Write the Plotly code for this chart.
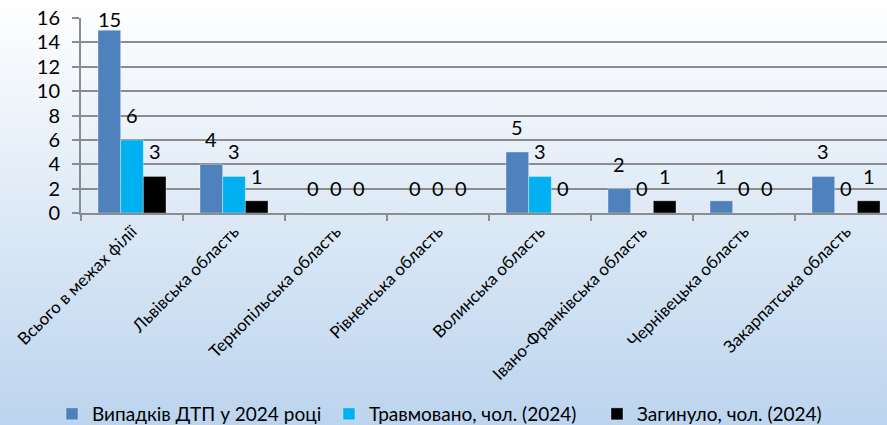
import base64
import plotly.graph_objects as go

regions = [
    "Всього в межах філії",
    "Львівська область",
    "Тернопільська область",
    "Рівненська область",
    "Волинська область",
    "Івано-Франківська область",
    "Чернівецька область",
    "Закарпатська область",
]
accidents = [15, 4, 0, 0, 5, 2, 1, 3]
injured = [6, 3, 0, 0, 3, 0, 0, 0]
killed = [3, 1, 0, 0, 0, 1, 0, 1]

series = [
    ("Випадків ДТП у 2024 році", accidents, "#4F81BD", 232),
    ("Травмовано, чол. (2024)", injured, "#00B0F0", 223),
    ("Загинуло, чол. (2024)", killed, "#000000", 200),
]

FONT = "Lato"
W, H = 887, 425
L, T, B = 81, 18, 212
CAT_PX = 102
BAR_PX = CAT_PX * (2 / 3) / 3


def _gradient_uri() -> str:
    svg = (
        "<svg xmlns='http://www.w3.org/2000/svg' width='10' height='100' preserveAspectRatio='none'>"
        "<defs><linearGradient id='g' x1='0' y1='0' x2='0' y2='1'>"
        "<stop offset='0' stop-color='#ffffff'/>"
        "<stop offset='1' stop-color='#bcd4ee'/>"
        "</linearGradient></defs>"
        "<rect width='10' height='100' fill='url(#g)'/></svg>"
    )
    return "data:image/svg+xml;base64," + base64.b64encode(svg.encode()).decode()


def _label_shift(v: float) -> int:
    # keep labels for tall bars inside the chart, as the source chart does
    return 11 if v < 14 else -3


fig = go.Figure()
annotations = []
for i, (name, vals, color, lw) in enumerate(series):
    fig.add_trace(go.Bar(x=regions, y=vals, name=name, marker_color=color, legendwidth=lw,
                         marker_line=dict(color="rgba(255,255,255,0.35)", width=1)))
    for reg, v in zip(regions, vals):
        annotations.append(dict(x=reg, y=v, text=str(v), showarrow=False,
                                xanchor="center", yanchor="bottom",
                                xshift=(i - 1) * BAR_PX, yshift=_label_shift(v),
                                font=dict(family=FONT, size=20, color="#000000")))

plot_w = W - L
plot_h = H - T - B
fig.update_layout(
    width=W, height=H,
    margin=dict(l=L, r=0, t=T, b=B, autoexpand=False),
    paper_bgcolor="rgba(0,0,0,0)", plot_bgcolor="rgba(0,0,0,0)",
    barmode="group", bargap=1 / 3, bargroupgap=0,
    font=dict(family=FONT, size=20, color="#000000"),
    annotations=annotations,
    images=[dict(source=_gradient_uri(), xref="paper", yref="paper",
                 x=-L / plot_w, y=1 + T / plot_h, sizex=W / plot_w, sizey=H / plot_h,
                 xanchor="left", yanchor="top", sizing="stretch", layer="below")],
    xaxis=dict(range=[-0.5, -0.5 + plot_w / CAT_PX], tickson="boundaries", automargin=False,
               ticks="outside", ticklen=6, tickcolor="#8c8c8c", tickwidth=2,
               showline=True, linecolor="#8c8c8c", linewidth=2,
               tickangle=-45, tickfont=dict(size=17), showgrid=False),
    yaxis=dict(range=[0, 16], dtick=2, showgrid=True, gridcolor="#8c8c8c", gridwidth=2,
               ticks="outside", ticklen=7, tickcolor="#8c8c8c", tickwidth=2,
               showline=True, linecolor="#8c8c8c", linewidth=2, automargin=False,
               zeroline=False, tickfont=dict(size=20), ticklabelstandoff=8),
    legend=dict(orientation="h", xref="container", yref="container",
                x=52 / W, xanchor="left", y=(H - 414) / H, yanchor="middle",
                font=dict(size=19), bgcolor="rgba(0,0,0,0)"),
)

fig.write_html("out.html", config={"displayModeBar": False},
               post_script="document.body.style.margin = '0';")
